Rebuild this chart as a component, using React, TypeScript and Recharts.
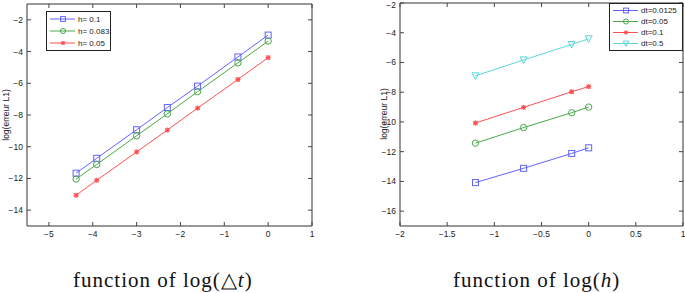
import React from 'react';
import { LineChart, Line, XAxis, YAxis } from 'recharts';

// left panel: error vs log(dt)
const logDt = [-4.38, -3.91, -3.0, -2.3, -1.61, -0.69, 0];
const errH01 = [-11.67, -10.73, -8.93, -7.53, -6.18, -4.34, -2.96];
const errH0083 = [-12.04, -11.12, -9.31, -7.93, -6.53, -4.71, -3.34];
const errH005 = [-13.06, -12.12, -10.33, -8.95, -7.57, -5.76, -4.38];

// right panel: error vs log(h)
const logH = [-1.2, -0.69, -0.18, 0];
const errDt00125 = [-14.08, -13.12, -12.12, -11.74];
const errDt005 = [-11.43, -10.38, -9.38, -9.0];
const errDt01 = [-10.07, -9.02, -7.97, -7.62];
const errDt05 = [-6.9, -5.83, -4.79, -4.41];

const leftXTicks = [-5, -4, -3, -2, -1, 0, 1];
const leftYTicks = [-14, -12, -10, -8, -6, -4, -2];
const rightXTicks = [-2, -1.5, -1, -0.5, 0, 0.5, 1];
const rightYTicks = [-16, -14, -12, -10, -8, -6, -4, -2];

const BLUE = '#6262ff';
const GREEN = '#4aa84a';
const RED = '#ff5050';
const CYAN = '#5cd6d6';

type Shape = 'square' | 'circle' | 'star' | 'tri';

const leftSeries = [
  { key: 'a', name: 'h= 0.1', color: BLUE, shape: 'square' as Shape, values: errH01 },
  { key: 'b', name: 'h= 0.083', color: GREEN, shape: 'circle' as Shape, values: errH0083 },
  { key: 'c', name: 'h= 0.05', color: RED, shape: 'star' as Shape, values: errH005 },
];

const rightSeries = [
  { key: 'a', name: 'dt=0.0125', color: BLUE, shape: 'square' as Shape, values: errDt00125 },
  { key: 'b', name: 'dt=0.05', color: GREEN, shape: 'circle' as Shape, values: errDt005 },
  { key: 'c', name: 'dt=0.1', color: RED, shape: 'star' as Shape, values: errDt01 },
  { key: 'd', name: 'dt=0.5', color: CYAN, shape: 'tri' as Shape, values: errDt05 },
];

const fmt = (v: number) => String(v).replace('-', '\u2212');

function Marker({ cx, cy, color, shape, s = 1 }: { cx: number; cy: number; color: string; shape: Shape; s?: number }) {
  if (shape === 'square')
    return <rect x={cx - 3 * s} y={cy - 3 * s} width={6 * s} height={6 * s} fill="none" stroke={color} strokeWidth={1} />;
  if (shape === 'circle')
    return <circle cx={cx} cy={cy} r={3.2 * s} fill="none" stroke={color} strokeWidth={1} />;
  if (shape === 'tri')
    return (
      <polygon
        points={`${cx - 3.5 * s},${cy - 3 * s} ${cx + 3.5 * s},${cy - 3 * s} ${cx},${cy + 3.5 * s}`}
        fill="none"
        stroke={color}
        strokeWidth={1}
      />
    );
  const r = 2.5 * s;
  const d = 2 * s;
  return (
    <g stroke={color} strokeWidth={1.2}>
      <line x1={cx - r} y1={cy} x2={cx + r} y2={cy} />
      <line x1={cx} y1={cy - r} x2={cx} y2={cy + r} />
      <line x1={cx - d} y1={cy - d} x2={cx + d} y2={cy + d} />
      <line x1={cx - d} y1={cy + d} x2={cx + d} y2={cy - d} />
    </g>
  );
}

const tickFont = { fontFamily: 'Liberation Sans, Arial, sans-serif', fontSize: 8.5, fill: '#222' };

const BottomTick = (props: any) => {
  const { x, y, payload } = props;
  return (
    <g>
      <line x1={x} y1={y} x2={x} y2={y - 4} stroke="#444" />
      <text x={x} y={y + 11} textAnchor="middle" {...tickFont}>
        {fmt(payload.value)}
      </text>
    </g>
  );
};

const LeftTick = (props: any) => {
  const { x, y, payload } = props;
  return (
    <g>
      <line x1={x} y1={y} x2={x + 4} y2={y} stroke="#444" />
      <text x={x - 4} y={Math.max(y + 3, 8)} textAnchor="end" {...tickFont}>
        {fmt(payload.value)}
      </text>
    </g>
  );
};

const TopTick = (props: any) => {
  const { x, y } = props;
  return <line x1={x} y1={y} x2={x} y2={y + 4} stroke="#444" />;
};

const RightTick = (props: any) => {
  const { x, y } = props;
  return <line x1={x} y1={y} x2={x - 4} y2={y} stroke="#444" />;
};

type Series = typeof leftSeries;

function Panel({
  xs,
  series,
  xDomain,
  yDomain,
  xTicks,
  yTicks,
  width,
  yAxisWidth,
  right,
  top,
}: {
  xs: number[];
  series: Series;
  xDomain: [number, number];
  yDomain: [number, number];
  xTicks: number[];
  yTicks: number[];
  width: number;
  yAxisWidth: number;
  right: number;
  top: number;
}) {
  const data = xs.map((x, i) => {
    const row: any = { x };
    series.forEach((s) => (row[s.key] = s.values[i]));
    return row;
  });
  return (
    <LineChart width={width} height={245} data={data} margin={{ top: top - 1, right: right - 1, bottom: 0, left: 0 }}>
      <XAxis
        xAxisId="b"
        dataKey="x"
        type="number"
        domain={xDomain}
        ticks={xTicks}
        allowDataOverflow
        height={19}
        tickSize={0}
        tickMargin={0}
        tickLine={false}
        stroke="#333"
        tick={<BottomTick />}
        interval={0}
      />
      <XAxis
        xAxisId="t"
        orientation="top"
        dataKey="x"
        type="number"
        domain={xDomain}
        ticks={xTicks}
        allowDataOverflow
        height={1}
        tickSize={0}
        tickMargin={0}
        tickLine={false}
        stroke="#333"
        tick={<TopTick />}
        interval={0}
      />
      <YAxis
        yAxisId="l"
        type="number"
        domain={yDomain}
        ticks={yTicks}
        allowDataOverflow
        width={yAxisWidth}
        tickSize={0}
        tickMargin={0}
        tickLine={false}
        stroke="#333"
        tick={<LeftTick />}
        interval={0}
      />
      <YAxis
        yAxisId="r"
        orientation="right"
        type="number"
        domain={yDomain}
        ticks={yTicks}
        allowDataOverflow
        width={1}
        tickSize={0}
        tickMargin={0}
        tickLine={false}
        stroke="#333"
        tick={<RightTick />}
        interval={0}
      />
      {series.map((s) => (
        <Line
          key={s.key}
          xAxisId="b"
          yAxisId="l"
          dataKey={s.key}
          stroke={s.color}
          strokeWidth={1}
          isAnimationActive={false}
          dot={(p: any) => <Marker key={p.index} cx={p.cx} cy={p.cy} color={s.color} shape={s.shape} />}
          activeDot={false}
        />
      ))}
    </LineChart>
  );
}

function LegendBox({ series, left, top, width, rowH }: { series: Series; left: number; top: number; width: number; rowH: number }) {
  return (
    <div
      style={{
        position: 'absolute',
        left,
        top,
        width,
        border: '1px solid #222',
        background: '#fff',
        boxSizing: 'border-box',
        padding: '1px 0',
      }}
    >
      {series.map((s) => (
        <div key={s.key} style={{ display: 'flex', alignItems: 'center', height: rowH, whiteSpace: 'nowrap' }}>
          <svg width={27} height={rowH} style={{ marginLeft: 3, flex: 'none' }}>
            <line x1={0} y1={rowH / 2} x2={25} y2={rowH / 2} stroke={s.color} strokeWidth={1} />
            <Marker cx={13} cy={rowH / 2} color={s.color} shape={s.shape} s={0.8} />
          </svg>
          <span style={{ fontFamily: 'Liberation Sans, Arial, sans-serif', fontSize: 8, color: '#222', marginLeft: 1 }}>
            {s.name}
          </span>
        </div>
      ))}
    </div>
  );
}

const yLabelStyle: React.CSSProperties = {
  position: 'absolute',
  fontFamily: 'Liberation Sans, Arial, sans-serif',
  fontSize: 8.5,
  color: '#222',
  whiteSpace: 'nowrap',
  transform: 'translate(-50%, -50%) rotate(-90deg)',
};

const captionStyle: React.CSSProperties = {
  position: 'absolute',
  fontFamily: 'Liberation Serif, Times New Roman, serif',
  fontSize: 21,
  letterSpacing: 1,
  color: '#111',
  whiteSpace: 'nowrap',
  lineHeight: 1,
};

export default function App() {
  return (
    <div style={{ position: 'absolute', left: 0, top: 0, width: 685, height: 293, background: '#fff', overflow: 'hidden' }}>
      <div style={{ position: 'absolute', left: 0, top: 0 }}>
        <Panel
          xs={logDt}
          series={leftSeries}
          xDomain={[-5.5, 1]}
          yDomain={[-15, -1]}
          xTicks={leftXTicks}
          yTicks={leftYTicks}
          width={330}
          yAxisWidth={27}
          right={18}
          top={4}
        />
      </div>
      <div style={{ position: 'absolute', left: 350, top: 0 }}>
        <Panel
          xs={logH}
          series={rightSeries}
          xDomain={[-2, 1]}
          yDomain={[-17, -2]}
          xTicks={rightXTicks}
          yTicks={rightYTicks}
          width={335}
          yAxisWidth={50}
          right={2}
          top={3}
        />
      </div>
      <LegendBox series={leftSeries} left={46} top={11} width={65} rowH={12} />
      <LegendBox series={rightSeries} left={609} top={3} width={74} rowH={11} />
      <div style={{ ...yLabelStyle, left: 6, top: 115 }}>log(erreur L1)</div>
      <div style={{ ...yLabelStyle, left: 384, top: 114 }}>log(erreur L1)</div>
      <div style={{ ...captionStyle, left: 73, top: 270 }}>
        function of log(△<i>t</i>)
      </div>
      <div style={{ ...captionStyle, left: 453, top: 270 }}>
        function of log(<i>h</i>)
      </div>
    </div>
  );
}
